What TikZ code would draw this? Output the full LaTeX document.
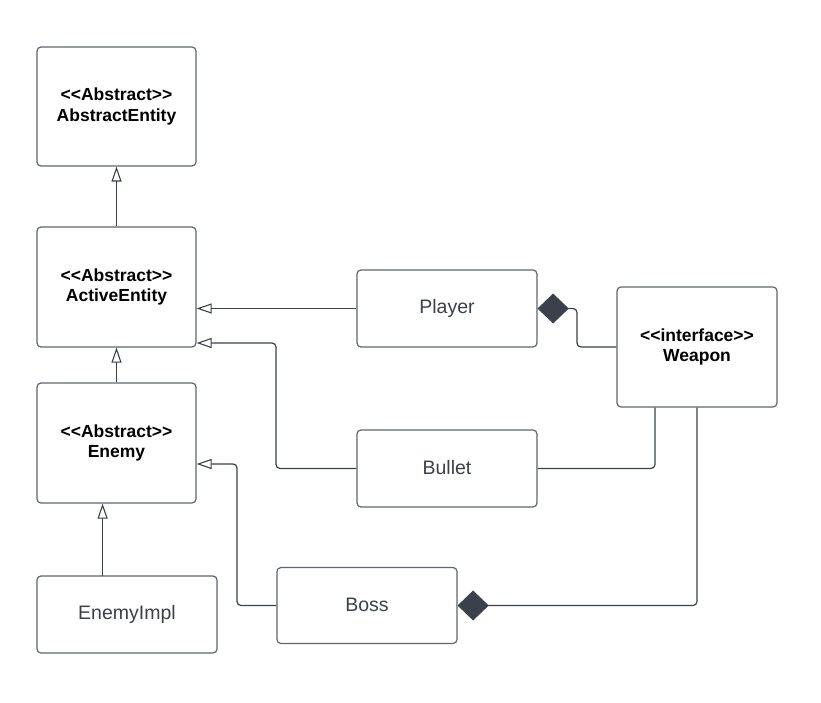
\documentclass[tikz,border=0pt]{standalone}
\usepackage{fontspec}
\setmainfont{Liberation Sans}
\usetikzlibrary{arrows.meta}
\definecolor{linec}{HTML}{3A414A}
\definecolor{boxc}{HTML}{5F6670}
\definecolor{txtc}{HTML}{3A414A}
\begin{document}
\begin{tikzpicture}[x=1pt,y=-1pt,
  cls/.style={draw=boxc, line width=1.2pt, rounded corners=4pt, fill=white, inner sep=0pt, align=center},
  abs/.style={cls, font=\fontsize{17.5}{20.5}\selectfont\bfseries, text=black},
  plain/.style={cls, font=\fontsize{19.5}{22}\selectfont, text=txtc},
  conn/.style={draw=linec, line width=1.2pt, rounded corners=4pt},
  inh/.style={conn, -{Triangle[open, length=15pt, width=10pt, line width=1.1pt]}},
  comp/.style={conn, -{Diamond[length=31pt, width=30pt, fill=linec, line width=0.5pt]}}]
\useasboundingbox (0,0) rectangle (821,703);
\fill[white] (0,0) rectangle (821,703);

\node[abs, minimum width=159pt, minimum height=119pt] (ae) at (116.5,106.5) {<{}<Abstract>{}>\\AbstractEntity};
\node[abs, minimum width=159pt, minimum height=120pt] (act) at (116.5,287) {<{}<Abstract>{}>\\ActiveEntity};
\node[abs, minimum width=159pt, minimum height=120pt] (enemy) at (116.5,443) {<{}<Abstract>{}>\\Enemy};
\node[plain, minimum width=180pt, minimum height=77pt] (impl) at (127,614.5) {EnemyImpl};
\node[plain, minimum width=180pt, minimum height=77pt] (player) at (447,308.5) {Player};
\node[plain, minimum width=180pt, minimum height=77pt] (bullet) at (447,468.5) {\raisebox{1.5pt}{Bullet}};
\node[plain, minimum width=180pt, minimum height=76pt] (boss) at (367,605.5) {\raisebox{1.5pt}{Boss}};
\node[abs, minimum width=160pt, minimum height=120pt] (weapon) at (697,347) {<{}<interface>{}>\\Weapon};

\coordinate (i1) at (102.6,576);
\coordinate (bk) at (276,343);
\coordinate (sk) at (237,464);
\coordinate (pk) at (577,347);
\coordinate (wk) at (655,468.5);
\coordinate (wb) at (697,605.5);

\draw[inh] (i1) -- (i1 |- enemy.south);
\draw[inh] (enemy.north) -- (act.south);
\draw[inh] (act.north) -- (ae.south);
\draw[inh] (player.west) -- (player.west -| act.east);
\draw[inh] (bullet.west) -- (bullet.west -| bk) -- (bk) -- (bk -| act.east);
\draw[inh] (boss.west) -- (boss.west -| sk) -- (sk) -- (sk -| enemy.east);
\draw[comp] (weapon.west) -- (pk) -- (pk |- player.east) -- (player.east);
\draw[conn] (bullet.east) -- (wk) -- (wk |- weapon.south);
\draw[comp] (wb |- weapon.south) -- (wb) -- (boss.east);
\end{tikzpicture}
\end{document}
